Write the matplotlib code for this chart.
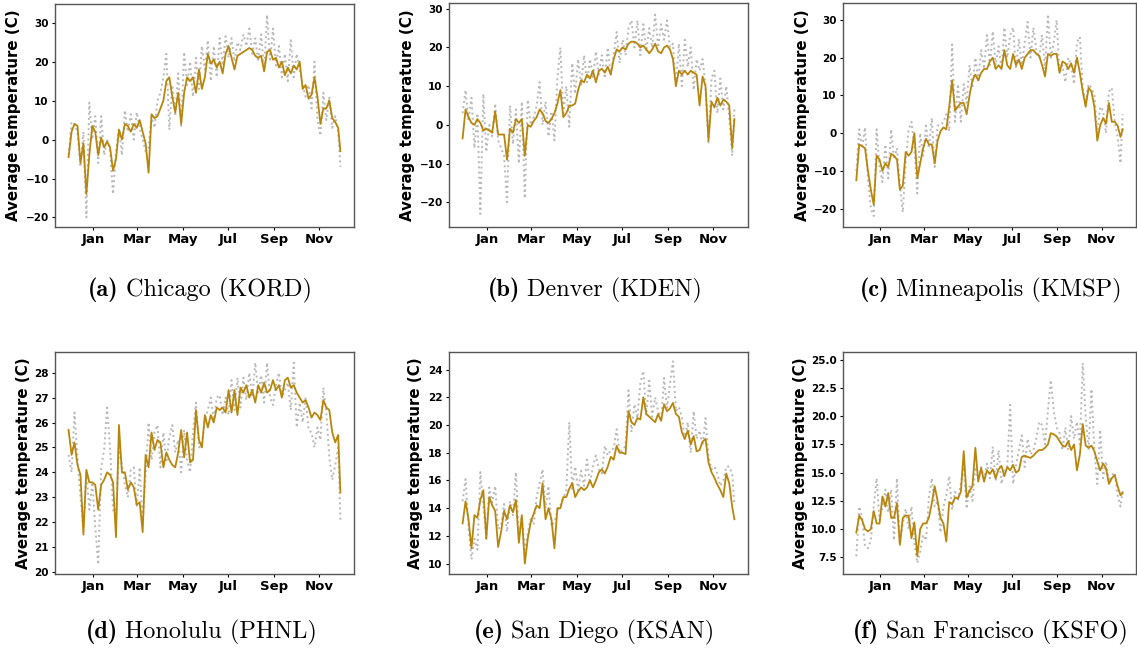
import os
import matplotlib
matplotlib.use("Agg")
import matplotlib.pyplot as plt
import matplotlib.dates as mdates
from matplotlib.font_manager import FontProperties
import pandas as pd

# sample dates: every 4 days from late Nov 2019, plus the last day
dates = list(pd.date_range("2019-11-29", periods=92, freq="4D")) + [pd.Timestamp("2020-11-30")]

chicago_pred = [-4.5, 2, 4, 3.5, -6, -1, -14, -4, 3.5, 2,
                -4, 0.5, -2, -0.5, -2, -8, -5, 2.5, 0, 4,
                3.5, 2, 4, 3, 5, 2, -1, -8.5, 6.5, 5.5,
                6, 8, 10, 15, 16, 11, 7, 12, 4, 12,
                16, 15, 16, 12, 18, 13, 16, 22, 19.5, 20.5,
                18.5, 20, 17, 22, 24, 21, 18, 21.5, 22, 22.5,
                23, 23.5, 23, 21.5, 21, 21.5, 17.5, 22.5, 23, 20.5,
                21, 18.5, 20, 16.5, 18.5, 17, 19, 18, 20, 13,
                14, 10.5, 11.5, 16, 11, 4, 8, 8, 10, 5.5,
                4.5, 3, -3]
chicago_obs = [-4, 4.5, 4, 2, -7, 2, -20, 9.5, 0, 6,
               -6, 6, -4, 0, -3, -14, -3, 3, -4, 7.5,
               2, 6.5, 0, 7, 3, 0, -3, -2, 6, 3,
               10, 12, 16, 22, 2.5, 14, 6, 17, 3.5, 22.5,
               14, 20, 11, 21, 13, 24, 18, 25.5, 15, 24,
               16, 26, 19, 26.5, 21, 26, 20, 25, 23, 27,
               24, 28.5, 22, 26, 20, 27, 18, 32, 20, 28.5,
               19, 24, 16, 22, 15, 25.5, 16, 22, 18, 14,
               11, 14, 8, 20, 5, 1, 12, 5, 11, 3,
               6, 2, -7]

denver_pred = [-3.5, 4, 2, 0.5, 0, 1.5, 0.5, -1.5, -1, -1.5,
               -2, 3.5, -2.5, -2.5, -2.5, -9, -1, -2, 1.5, 0.5,
               1.5, -8, 0, -0.5, 1, 2, 4, 3, 1, 0.5,
               1.5, 3, 5.5, 9, 2, 3, 5, 5, 5.5, 9,
               11.5, 11, 13, 12, 14, 11, 14, 14.5, 13.5, 15,
               13, 17, 19.5, 19, 20, 19.5, 21, 21.5, 21.5, 21,
               20, 20.5, 19.5, 18.5, 19.5, 21, 19, 18.5, 20, 20.5,
               19.5, 17, 10, 14, 13, 14, 13, 14, 13.5, 13,
               5, 12.5, 10, -4, 6, 4.5, 7, 5, 6.5, 6,
               5, -6, 1.5]
denver_obs = [3, 9, 1, 7, -6, 3, -23, 8, -7, 0,
              -3, 5.5, -4, -6, -8, -20, 5, -5, 4, -10,
              6, -19, 6.5, 0, 2, 5, 11, 0, 6, -3,
              3.5, -4, 12, 20, 3, 10, -0.5, 16, 8, 17,
              10, 18, 11, 17, 12, 19, 13, 18, 12, 20,
              13, 18, 24, 16, 22, 18, 25, 27, 20, 27,
              18, 26, 19, 25, 20, 28.5, 20, 26, 22, 27,
              20, 21, 10, 21, 10, 22, 15, 20, 9, 17,
              14, 17, 10, -5, 12, 14, 3, 12, 4, 10,
              2, -8, 4]

minneapolis_pred = [-12.5, -3, -3.5, -4, -10, -15, -19, -6, -7, -10,
                    -8, -9, -5.5, -6, -7, -15, -14, -5, -6, -5,
                    0, -12, -8, -4, -1.5, -3, -3, -8, -2, 0.5,
                    1.5, 1, 7, 14, 6, 7, 8, 8, 5, 10,
                    14, 15.5, 14, 16, 17, 17, 19, 20, 17, 18,
                    17, 22, 18, 17, 21, 18, 19.5, 17, 20, 21,
                    22, 22, 21, 20.5, 18, 15, 21, 20.5, 21, 21,
                    16, 19, 18.5, 17, 18.5, 16, 20, 16, 11, 7,
                    12, 11, 7, -2, 2, 4, 2.5, 8, 3, 3,
                    2, -1, 1]
minneapolis_obs = [-10, 1, -4, 1.5, -12, -20, -22, 1, -9, -13,
                   -3, -12, 1, -7, -4, -14, -21, -8, 1, 3,
                   -4, -16, 0, -6, 2, -4, 4, -9, 2, 2,
                   3, 5, 0.5, 23.5, 3, 13, 3, 13, 8, 18,
                   12, 20, 14, 22, 17, 26, 18, 27, 18, 23,
                   17, 28, 20, 26, 28, 17, 25, 18, 24, 29.5,
                   20, 28, 22, 20, 26, 17, 31.5, 20, 24, 30,
                   16, 18, 13.5, 20, 18, 13, 24, 25.5, 12, 8,
                   13, 12, 10, 0, 7, 6, 0, 11, 12, 3,
                   -1, -8, 5]

honolulu_pred = [25.7, 24.7, 25.2, 24.3, 23.9, 21.5, 24.1, 23.6, 23.6, 23.5,
                 22.5, 23.5, 23.7, 24.0, 23.9, 23.6, 21.4, 25.9, 24.0, 24.0,
                 23.3, 23.6, 23.4, 22.7, 22.8, 21.6, 24.7, 24.2, 25.6, 24.9,
                 25.3, 25.2, 24.2, 24.8, 24.5, 24.3, 24.2, 24.8, 25.7, 24.6,
                 25.6, 24.4, 24.5, 26.5, 25.3, 25.0, 26.3, 25.8, 26.3, 26.0,
                 26.6, 26.5, 26.6, 26.4, 27.3, 26.4, 27.3, 26.3, 27.4, 27.2,
                 27.5, 27.0, 27.3, 26.8, 27.5, 27.2, 27.6, 27.2, 27.3, 27.7,
                 27.3, 27.5, 27.0, 27.7, 27.8, 27.4, 27.5, 27.2, 27.0, 26.8,
                 26.9, 26.6, 26.2, 26.4, 26.3, 26.1, 26.9, 26.6, 26.5, 25.6,
                 25.2, 25.5, 23.2]
honolulu_obs = [24.7, 24.0, 26.4, 24.6, 23.0, 21.8, 24.0, 22.5, 23.6, 21.8,
                20.3, 24.2, 24.9, 26.6, 25.0, 22.5, 22.2, 25.0, 24.3, 23.5,
                23.0, 24.1, 24.2, 22.6, 24.2, 22.0, 23.9, 26.0, 24.5, 25.6,
                25.9, 24.2, 25.6, 24.4, 25.4, 25.9, 24.8, 25.3, 24.0, 25.7,
                24.5, 24.0, 25.6, 26.8, 25.0, 25.1, 26.1, 26.5, 27.0, 26.1,
                27.0, 27.1, 26.3, 27.0, 26.3, 27.7, 26.5, 27.8, 26.6, 27.8,
                26.9, 28.0, 27.0, 28.4, 27.2, 27.9, 26.8, 28.4, 27.0, 26.7,
                27.5, 28.0, 27.0, 27.3, 27.6, 26.5, 28.4, 25.8, 26.8, 26.0,
                27.0, 25.7, 25.6, 25.0, 25.8, 25.3, 27.4, 26.4, 24.6, 23.7,
                24.3, 25.0, 22.1]

sandiego_pred = [12.9, 14.5, 13.2, 11.1, 13.5, 13.3, 14.6, 15.3, 11.8, 14.8,
                 14.2, 13.8, 11.2, 12.3, 13.8, 13.2, 14.2, 13.7, 14.6, 11.5,
                 13.5, 10.0, 11.8, 13.0, 13.6, 14.2, 14.0, 15.8, 13.2, 14.0,
                 13.2, 11.1, 14.0, 14.0, 14.8, 14.8, 15.4, 15.8, 14.8, 15.2,
                 15.5, 15.3, 15.5, 16.0, 15.5, 16.0, 16.6, 16.8, 16.5, 17.0,
                 17.7, 17.5, 18.5, 18.0, 18.0, 17.9, 21.0, 20.2, 20.0, 20.5,
                 20.4, 22.0, 20.8, 20.6, 20.4, 20.2, 20.8, 20.3, 21.5, 21.0,
                 21.2, 21.6, 20.8, 20.6, 19.5, 19.0, 19.6, 18.6, 19.2, 18.1,
                 18.2, 18.8, 19.0, 17.3, 16.6, 16.2, 15.7, 15.3, 14.8, 16.5,
                 15.8, 14.1, 13.2]
sandiego_obs = [14.5, 16.1, 12.6, 10.3, 11.8, 11.0, 16.6, 14.2, 11.8, 15.5,
                14.4, 15.6, 12.5, 12.7, 14.3, 12.3, 14.5, 13.5, 16.6, 12.0,
                13.4, 11.0, 12.2, 13.3, 12.8, 14.8, 15.8, 16.8, 14.0, 15.6,
                12.7, 13.0, 13.8, 14.2, 14.8, 15.2, 20.2, 15.4, 17.0, 15.3,
                16.7, 15.6, 17.5, 15.8, 17.0, 17.8, 16.8, 16.5, 18.5, 17.8,
                18.2, 18.3, 19.7, 18.0, 18.2, 18.5, 22.5, 19.5, 21.5, 20.5,
                23.0, 23.9, 20.7, 23.2, 20.6, 22.0, 21.0, 20.3, 23.4, 21.2,
                23.0, 24.6, 21.0, 21.3, 20.6, 19.0, 20.2, 18.0, 21.0, 19.0,
                19.6, 18.5, 20.5, 17.8, 16.8, 17.0, 16.5, 15.6, 16.0, 17.0,
                17.0, 16.5, 14.2]

sanfrancisco_pred = [9.7, 11.2, 10.8, 10.0, 9.8, 10.0, 11.6, 10.5, 10.5, 12.9,
                     12.0, 13.2, 11.0, 11.0, 12.3, 8.6, 11.0, 11.2, 11.2, 9.2,
                     10.6, 7.6, 10.0, 10.5, 10.5, 11.0, 12.3, 13.8, 12.5, 11.0,
                     10.5, 8.9, 12.4, 12.2, 12.8, 12.7, 13.3, 16.9, 12.8, 13.4,
                     13.8, 17.2, 14.2, 15.4, 14.2, 15.2, 14.9, 15.3, 14.5, 15.3,
                     15.6, 14.7, 15.5, 15.2, 15.7, 15.0, 15.2, 16.4, 16.5, 16.4,
                     16.3, 16.5, 16.8, 17.0, 17.0, 17.2, 17.5, 18.5, 18.4, 18.2,
                     17.8, 17.4, 17.3, 17.8, 17.0, 17.5, 15.2, 16.6, 19.3, 17.4,
                     17.2, 17.4, 16.9, 16.0, 15.2, 15.8, 15.4, 14.0, 14.5, 14.8,
                     13.8, 13.0, 13.2]
sanfrancisco_obs = [7.6, 12.0, 11.0, 8.5, 8.3, 9.0, 12.0, 14.5, 10.8, 12.0,
                    13.5, 11.5, 13.5, 9.0, 14.5, 8.7, 10.5, 11.8, 10.0, 12.0,
                    8.7, 7.0, 8.0, 9.5, 9.0, 12.8, 14.5, 12.0, 12.5, 9.7,
                    12.0, 13.0, 14.7, 11.7, 13.3, 12.5, 14.0, 15.5, 11.8, 13.8,
                    12.5, 15.5, 14.5, 15.5, 14.5, 15.8, 14.5, 17.3, 14.3, 17.0,
                    14.0, 15.2, 15.5, 21.0, 14.0, 15.6, 17.0, 18.3, 15.5, 18.0,
                    16.6, 17.0, 18.0, 19.5, 19.2, 17.5, 20.5, 23.2, 20.5, 19.0,
                    18.5, 17.0, 19.0, 17.0, 20.0, 18.0, 19.5, 17.5, 24.7, 20.0,
                    17.0, 22.4, 17.0, 14.0, 18.8, 14.5, 16.0, 14.2, 14.8, 15.0,
                    13.0, 12.0, 13.5]

captions = ["Chicago (KORD)", "Denver (KDEN)", "Minneapolis (KMSP)",
            "Honolulu (PHNL)", "San Diego (KSAN)", "San Francisco (KSFO)"]
letters = ["(a)", "(b)", "(c)", "(d)", "(e)", "(f)"]

ttf_dir = os.path.join(matplotlib.get_data_path(), "fonts", "ttf")
cm_bold = FontProperties(fname=os.path.join(ttf_dir, "cmb10.ttf"), size=17.5)
cm_rom = FontProperties(fname=os.path.join(ttf_dir, "cmr10.ttf"), size=17.5)

fig = plt.figure(figsize=(11.37, 6.48), dpi=100)
W, H = 1137.0, 648.0

# panel layout in pixels: left, top, right, bottom; ylabel x (axes fraction); caption centre/baseline
panels = [
    (chicago_pred, chicago_obs, (55, 4, 354, 227), (-22.45, 34.8), [-20, -10, 0, 10, 20, 30], -0.114, (200, 296)),
    (denver_pred, denver_obs, (449, 3, 748, 227), (-26.4, 31.5), [-20, -10, 0, 10, 20, 30], -0.114, (595, 296)),
    (minneapolis_pred, minneapolis_obs, (843, 3, 1136, 227), (-24.9, 34.5), [-20, -10, 0, 10, 20, 30], -0.113, (991, 296)),
    (honolulu_pred, honolulu_obs, (55, 352, 354, 574), (19.92, 28.83), [20, 21, 22, 23, 24, 25, 26, 27, 28], -0.08, (201, 638)),
    (sandiego_pred, sandiego_obs, (449, 352, 748, 574), (9.25, 25.27), [10, 12, 14, 16, 18, 20, 22, 24], -0.087, (594, 638)),
    (sanfrancisco_pred, sanfrancisco_obs, (843, 352, 1136, 574), (6.03, 25.68), [7.5, 10.0, 12.5, 15.0, 17.5, 20.0, 22.5, 25.0], -0.12, (990, 638)),
]

renderer = fig.canvas.get_renderer()
for k, (pred, obs, box, ylim, yt, labx, cap_xy) in enumerate(panels):
    l, t, r, b = box
    ax = fig.add_axes([l / W, 1 - b / H, (r - l) / W, (b - t) / H])
    ax.plot(dates, obs, color="#b8b8b8", linestyle=":", linewidth=1.4)
    ax.plot(dates, pred, color="darkgoldenrod", linewidth=1.3)
    ax.set_ylim(*ylim)
    ax.set_yticks(yt)
    ax.xaxis.set_major_locator(mdates.MonthLocator(bymonth=[1, 3, 5, 7, 9, 11]))
    ax.xaxis.set_major_formatter(mdates.DateFormatter("%b"))
    ax.tick_params(axis="x", labelsize=9.5, length=2.5, pad=2)
    ax.tick_params(axis="y", labelsize=7.5, length=2.5, pad=2)
    for lab in ax.get_xticklabels() + ax.get_yticklabels():
        lab.set_fontweight("bold")
    for sp in ax.spines.values():
        sp.set_color("#555555")
        sp.set_linewidth(1.0)
    ax.set_ylabel("Average temperature (C)", fontsize=10.8, fontweight="bold")
    ax.yaxis.set_label_coords(labx, 0.5)

    # caption: bold letter + roman name, centred as one line
    gap = 7
    t1 = fig.text(0, 1 - cap_xy[1] / H, letters[k], fontproperties=cm_bold, va="baseline")
    t2 = fig.text(0, 1 - cap_xy[1] / H, captions[k], fontproperties=cm_rom, va="baseline")
    w1 = t1.get_window_extent(renderer).width
    w2 = t2.get_window_extent(renderer).width
    x0 = cap_xy[0] - (w1 + gap + w2) / 2
    t1.set_x(x0 / W)
    t2.set_x((x0 + w1 + gap) / W)

fig.savefig("out.png", dpi=100)
